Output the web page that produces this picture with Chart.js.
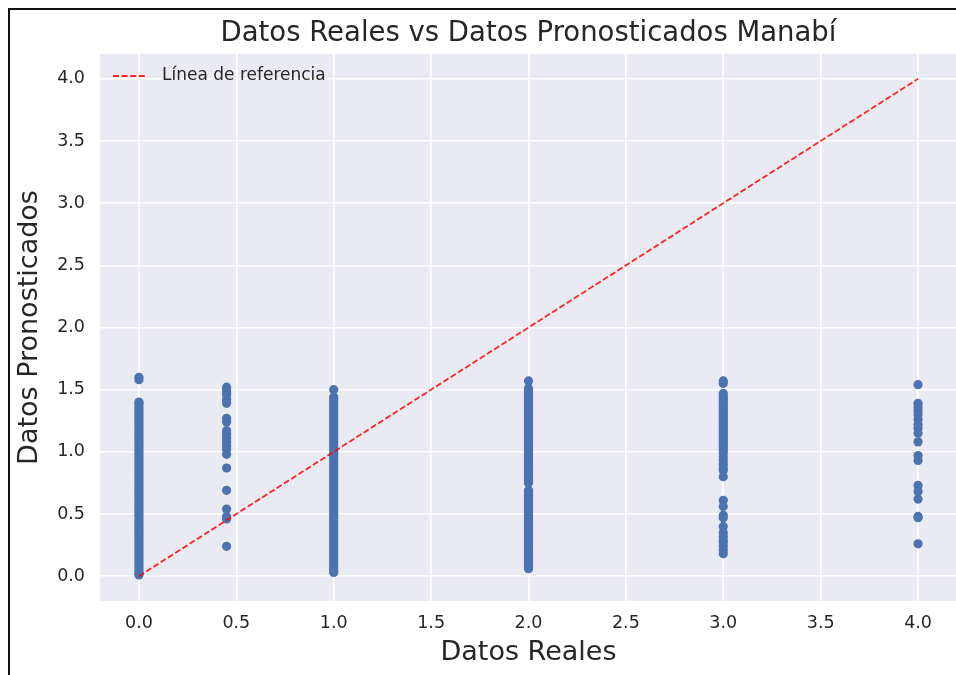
<!DOCTYPE html>
<html>
<head>
<meta charset="utf-8">
<script src="https://cdn.jsdelivr.net/npm/chart.js@4.4.0/dist/chart.umd.min.js"></script>
<style>
html, body { margin: 0; padding: 0; background: #fff; overflow: hidden; }
#plot { position: absolute; left: 0; top: 0; }
#frame { position: absolute; left: 8px; top: 8px; width: 980px; height: 700px;
  border-left: 2px solid #111; border-top: 2px solid #111; pointer-events: none; }
</style>
</head>
<body>
<canvas id="plot" width="970" height="675"></canvas>
<div id="frame"></div>
<script>
// valores reales (eje x) y pronosticados (eje y)
const realValues = [0, 0.45, 1, 2, 3, 4];

const pred00 = [1.60, 1.58, 1.40, 1.39, 1.37, 1.35, 1.33, 1.31, 1.29, 1.27, 1.25, 1.23, 1.21, 1.19,
  1.17, 1.15, 1.13, 1.11, 1.09, 1.07, 1.05, 1.03, 1.01, 0.99, 0.97, 0.95, 0.93, 0.91, 0.89, 0.87,
  0.85, 0.83, 0.81, 0.79, 0.77, 0.75, 0.73, 0.71, 0.69, 0.67, 0.65, 0.63, 0.61, 0.59, 0.57, 0.55,
  0.53, 0.51, 0.49, 0.47, 0.45, 0.43, 0.41, 0.39, 0.37, 0.35, 0.33, 0.31, 0.29, 0.27, 0.25, 0.23,
  0.21, 0.19, 0.17, 0.15, 0.13, 0.11, 0.09, 0.07, 0.05, 0.03, 0.02, 0.01];
const pred045 = [1.52, 1.50, 1.48, 1.46, 1.42, 1.39, 1.27, 1.24, 1.17, 1.14, 1.11, 1.08, 1.05,
  1.02, 0.98, 0.87, 0.69, 0.54, 0.48, 0.46, 0.24];
const pred10 = [1.50, 1.44, 1.42, 1.40, 1.38, 1.36, 1.34, 1.32, 1.30, 1.28, 1.26, 1.24, 1.22, 1.20,
  1.18, 1.16, 1.14, 1.12, 1.10, 1.08, 1.06, 1.04, 1.02, 1.00, 0.98, 0.96, 0.94, 0.92, 0.90, 0.88,
  0.86, 0.84, 0.82, 0.80, 0.78, 0.76, 0.74, 0.72, 0.70, 0.68, 0.66, 0.64, 0.62, 0.60, 0.58, 0.56,
  0.54, 0.52, 0.50, 0.48, 0.46, 0.44, 0.42, 0.40, 0.38, 0.36, 0.34, 0.32, 0.30, 0.28, 0.26, 0.24,
  0.22, 0.20, 0.18, 0.16, 0.14, 0.12, 0.10, 0.08, 0.06, 0.04, 0.03];
const pred20 = [1.57, 1.51, 1.49, 1.47, 1.45, 1.43, 1.41, 1.39, 1.37, 1.35, 1.33, 1.31, 1.29, 1.27,
  1.25, 1.23, 1.21, 1.19, 1.17, 1.15, 1.13, 1.11, 1.09, 1.07, 1.05, 1.03, 1.01, 0.99, 0.97, 0.95,
  0.93, 0.91, 0.89, 0.87, 0.85, 0.83, 0.81, 0.79, 0.77, 0.75, 0.69, 0.67, 0.65, 0.63, 0.61, 0.59,
  0.57, 0.55, 0.53, 0.51, 0.49, 0.47, 0.45, 0.43, 0.41, 0.39, 0.37, 0.35, 0.33, 0.31, 0.29, 0.27,
  0.25, 0.23, 0.21, 0.19, 0.17, 0.15, 0.13, 0.11, 0.09, 0.07, 0.06];
const pred30 = [1.57, 1.55, 1.47, 1.45, 1.43, 1.41, 1.39, 1.37, 1.35, 1.33, 1.31, 1.29, 1.27, 1.25,
  1.23, 1.21, 1.19, 1.17, 1.15, 1.13, 1.11, 1.09, 1.07, 1.05, 1.03, 1.01, 0.99, 0.96, 0.93, 0.90,
  0.87, 0.85, 0.80, 0.61, 0.56, 0.49, 0.47, 0.40, 0.35, 0.32, 0.29, 0.27, 0.24, 0.21, 0.18];
const pred40 = [1.54, 1.39, 1.36, 1.33, 1.30, 1.26, 1.22, 1.19, 1.15, 1.08, 0.97, 0.93, 0.73, 0.68,
  0.62, 0.48, 0.47, 0.26];
const predicted = [pred00, pred045, pred10, pred20, pred30, pred40];

const refLine = [0, 4];
const xTicks = [0, 0.5, 1, 1.5, 2, 2.5, 3, 3.5, 4];
const yTicks = [0, 0.5, 1, 1.5, 2, 2.5, 3, 3.5, 4];

const family = '"DejaVu Sans", sans-serif';
const textColor = '#262626';

const points = [];
realValues.forEach((rv, i) => {
    predicted[i].forEach(p => points.push({ x: rv, y: p }));
});

const plotBg = {
    id: 'plotBg',
    beforeDraw(chart) {
        const { ctx, chartArea: a } = chart;
        ctx.save();
        ctx.fillStyle = '#EAEAF2';
        ctx.fillRect(a.left, a.top, a.right - a.left, a.bottom - a.top);
        ctx.restore();
    }
};

// leyenda dentro del area, arriba a la izquierda
const refLegend = {
    id: 'refLegend',
    afterDraw(chart) {
        const ds = chart.data.datasets[0];
        const { ctx, chartArea: a } = chart;
        const y = a.top + 22;
        ctx.save();
        ctx.strokeStyle = ds.borderColor;
        ctx.lineWidth = ds.borderWidth;
        ctx.setLineDash(ds.borderDash);
        ctx.beginPath();
        ctx.moveTo(a.left + 13, y);
        ctx.lineTo(a.left + 47, y);
        ctx.stroke();
        ctx.setLineDash([]);
        ctx.fillStyle = textColor;
        ctx.font = '17px ' + family;
        ctx.textBaseline = 'middle';
        ctx.fillText(ds.label, a.left + 62, y);
        ctx.restore();
    }
};

new Chart(document.getElementById('plot'), {
    type: 'scatter',
    data: {
        datasets: [
            {
                label: 'Línea de referencia',
                data: refLine.map(v => ({ x: v, y: v })),
                showLine: true,
                borderColor: 'rgba(255, 0, 0, 0.85)',
                borderWidth: 1.8,
                borderDash: [6, 2.6],
                pointRadius: 0,
                fill: false
            },
            {
                label: 'Datos',
                data: points,
                backgroundColor: '#4C72B0',
                borderWidth: 0,
                pointRadius: 4.6
            }
        ]
    },
    options: {
        responsive: false,
        animation: false,
        devicePixelRatio: 1,
        layout: { padding: { left: 10, right: 13, top: 0, bottom: 0 } },
        plugins: {
            legend: { display: false },
            tooltip: { enabled: false },
            title: {
                display: true,
                text: 'Datos Reales vs Datos Pronosticados Manabí',
                fullSize: false,
                color: textColor,
                font: { family, size: 27.5, weight: 'normal' },
                padding: { top: 17, bottom: 4 }
            }
        },
        scales: {
            x: {
                type: 'linear',
                min: -0.2,
                max: 4.2,
                afterBuildTicks: s => { s.ticks = xTicks.map(v => ({ value: v })); },
                afterFit: s => { s.height = 74; },
                grid: { color: '#ffffff', lineWidth: 1.6, drawTicks: false },
                border: { display: false },
                ticks: {
                    padding: 12,
                    color: textColor,
                    font: { family, size: 17.5 },
                    callback: v => v.toFixed(1)
                },
                title: {
                    display: true,
                    text: 'Datos Reales',
                    color: textColor,
                    font: { family, size: 27 },
                    padding: { top: 0, bottom: 6 }
                }
            },
            y: {
                type: 'linear',
                min: -0.2,
                max: 4.2,
                afterBuildTicks: s => { s.ticks = yTicks.map(v => ({ value: v })); },
                afterFit: s => { s.width = 90; },
                grid: { color: '#ffffff', lineWidth: 1.6, drawTicks: false },
                border: { display: false },
                ticks: {
                    padding: 15,
                    color: textColor,
                    font: { family, size: 17.5 },
                    callback: v => v.toFixed(1)
                },
                title: {
                    display: true,
                    text: 'Datos Pronosticados',
                    color: textColor,
                    font: { family, size: 27 },
                    padding: { top: 4, bottom: 0 }
                }
            }
        }
    },
    plugins: [plotBg, refLegend]
});
</script>
</body>
</html>
